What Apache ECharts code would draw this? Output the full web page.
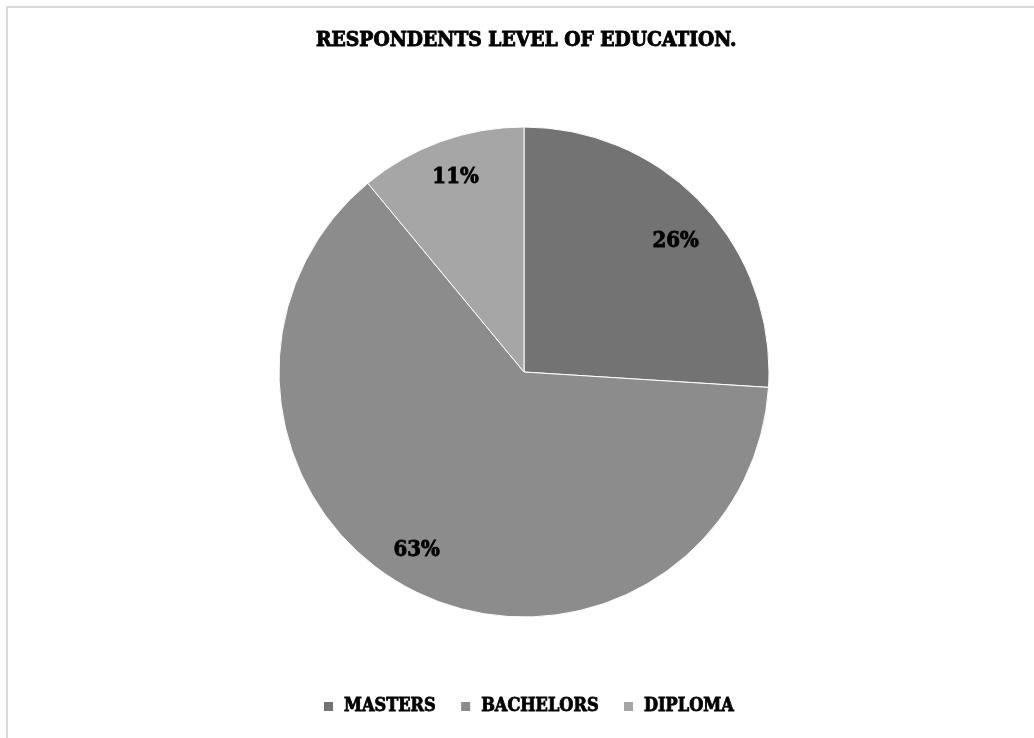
<!DOCTYPE html>
<html>
<head>
<meta charset="utf-8">
<script src="https://cdn.jsdelivr.net/npm/echarts@6/dist/echarts.min.js"></script>
<style>
html,body{margin:0;padding:0;background:#fff;}
#chart{width:1034px;height:738px;}
</style>
</head>
<body>
<div id="chart"></div>
<script>
const titleText = 'RESPONDENTS LEVEL OF EDUCATION.';
const categories = ['MASTERS', 'BACHELORS', 'DIPLOMA'];
const values = [26, 63, 11];
const colors = ['#737373', '#8c8c8c', '#a6a6a6'];

const FONT = '"DejaVu Serif Condensed", "DejaVu Serif", serif';
const data = categories.map((c, i) => ({ name: c, value: values[i], itemStyle: { color: colors[i] } }));
const labelNudge = [[0, 12], [-13, -7], [2, 1]];

const chart = echarts.init(document.getElementById('chart'), null, { renderer: 'canvas' });
chart.setOption({
  backgroundColor: '#ffffff',
  animation: false,
  title: {
    text: titleText,
    left: 311,
    top: 25,
    textStyle: { fontFamily: FONT, fontWeight: 900, fontSize: 20.8, color: '#000', textBorderColor: '#000', textBorderWidth: 0.9 }
  },
  legend: {
    data: categories,
    bottom: 17,
    left: 317,
    itemWidth: 11,
    itemHeight: 11,
    itemGap: 23,
    icon: 'rect',
    textStyle: { fontFamily: FONT, fontWeight: 900, fontSize: 18, color: '#000', textBorderColor: '#000', textBorderWidth: 0.8, padding: [0, 0, 0, 5] }
  },
  graphic: [{
    type: 'rect',
    shape: { x: 7, y: 7, width: 1100, height: 800 },
    style: { fill: 'none', stroke: '#d9d9d9', lineWidth: 2 },
    silent: true
  }],
  series: [{
    type: 'pie',
    center: [524, 372],
    radius: [0, 245],
    startAngle: 90,
    clockwise: true,
    data: data,
    itemStyle: { borderColor: '#ffffff', borderWidth: 1 },
    label: { show: false },
    labelLine: { show: false },
    emphasis: { disabled: true }
  }, {
    type: 'pie',
    center: [524, 372],
    radius: [165, 245],
    startAngle: 90,
    clockwise: true,
    silent: true,
    data: data.map(d => ({ name: d.name, value: d.value, itemStyle: { color: 'rgba(0,0,0,0)' } })),
    itemStyle: { borderWidth: 0 },
    label: {
      show: true,
      position: 'inside',
      formatter: '{d}%',
      fontFamily: FONT,
      fontWeight: 900,
      fontSize: 22,
      color: '#000',
      textBorderColor: '#000',
      textBorderWidth: 0.8
    },
    labelLayout: function (p) {
      const n = labelNudge[p.dataIndex] || [0, 0];
      return { dx: n[0], dy: n[1] };
    },
    labelLine: { show: false },
    emphasis: { disabled: true }
  }]
});
</script>
</body>
</html>
